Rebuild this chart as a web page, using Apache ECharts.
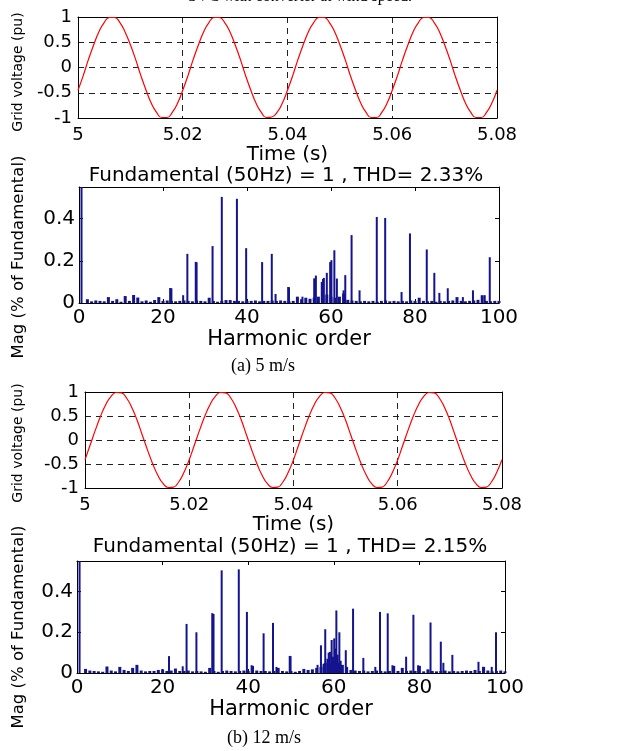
<!DOCTYPE html>
<html>
<head>
<meta charset="utf-8">
<script src="https://cdn.jsdelivr.net/npm/echarts@6/dist/echarts.min.js"></script>
<style>
  html, body { margin: 0; padding: 0; background: #fff; }
  #main { width: 638px; height: 751px; }
</style>
</head>
<body>
<div id="main"></div>
<script>
// grid voltage, sampled every 1 ms from t = 5 s
var tStart = 5, tStep = 0.001;
var voltA = [-0.45, -0.16, 0.16, 0.45, 0.71, 0.89, 0.99, 0.99, 0.89, 0.70, 0.45, 0.16, -0.16, -0.45, -0.71, -0.89, -0.99, -0.99, -0.89, -0.71,
             -0.45, -0.16, 0.16, 0.45, 0.71, 0.89, 0.99, 0.99, 0.89, 0.71, 0.45, 0.16, -0.16, -0.45, -0.71, -0.89, -0.99, -0.98, -0.89, -0.71,
             -0.45, -0.16, 0.16, 0.45, 0.71, 0.89, 0.99, 0.99, 0.89, 0.71, 0.45, 0.16, -0.16, -0.45, -0.71, -0.89, -0.99, -0.99, -0.89, -0.71,
             -0.45, -0.16, 0.16, 0.45, 0.71, 0.89, 0.99, 0.99, 0.89, 0.71, 0.45, 0.16, -0.16, -0.45, -0.71, -0.89, -0.99, -0.99, -0.89, -0.71,
             -0.45];
var voltB = [-0.41, -0.10, 0.21, 0.50, 0.74, 0.91, 0.99, 0.98, 0.87, 0.67, 0.41, 0.10, -0.21, -0.50, -0.74, -0.91, -0.99, -0.98, -0.87, -0.67,
             -0.41, -0.10, 0.21, 0.50, 0.74, 0.91, 0.99, 0.98, 0.87, 0.67, 0.41, 0.10, -0.21, -0.50, -0.74, -0.91, -0.99, -0.98, -0.87, -0.67,
             -0.41, -0.10, 0.21, 0.50, 0.74, 0.91, 0.99, 0.98, 0.87, 0.67, 0.41, 0.10, -0.21, -0.50, -0.74, -0.91, -0.99, -0.98, -0.87, -0.67,
             -0.41, -0.10, 0.21, 0.50, 0.74, 0.91, 0.99, 0.98, 0.87, 0.67, 0.41, 0.10, -0.21, -0.50, -0.74, -0.91, -0.99, -0.98, -0.87, -0.67,
             -0.41];

// spectrum lines [harmonic order, magnitude]
var peaksA = [[0.6, 1], [21.7, 0.071], [22, 0.07], [24.8, 0.037], [25.8, 0.233], [27.8, 0.195], [28, 0.193], [31.8, 0.27],
              [34, 0.503], [37.6, 0.494], [39.8, 0.26], [43.6, 0.194], [45.9, 0.233], [46.8, 0.043], [49.8, 0.076], [50, 0.075],
              [53.2, 0.03], [56, 0.117], [56.4, 0.13], [57.8, 0.10], [58.1, 0.114], [58.3, 0.119], [59, 0.143], [59.8, 0.194],
              [60.1, 0.203], [60.8, 0.25], [61.4, 0.116], [63, 0.06], [63.4, 0.132], [64.9, 0.322], [66.8, 0.06], [70.9, 0.408],
              [72.9, 0.403], [76.8, 0.052], [78.8, 0.33], [82.8, 0.254], [84.6, 0.143], [85.8, 0.048], [87.8, 0.07], [91.4, 0.028],
              [93.8, 0.06], [96.6, 0.037], [97.8, 0.217]];
var peaksB = [[0.6, 1], [21.5, 0.083], [24.7, 0.033], [25.6, 0.241], [27.9, 0.2], [31.6, 0.294], [31.9, 0.29], [33.8, 0.504],
              [37.8, 0.509], [39.7, 0.30], [40.8, 0.038], [43.6, 0.195], [45.8, 0.246], [46.6, 0.03], [49.7, 0.084], [49.9, 0.083],
              [56.2, 0.04], [57, 0.136], [57.6, 0.045], [58, 0.215], [58.5, 0.07], [58.8, 0.1], [59.1, 0.104], [59.5, 0.162],
              [59.8, 0.08], [60.1, 0.17], [60.3, 0.12], [60.6, 0.307], [60.9, 0.09], [61.3, 0.2], [61.6, 0.06], [62.8, 0.112],
              [64.5, 0.316], [66.9, 0.074], [69.7, 0.03], [70.8, 0.30], [72.6, 0.293], [73.7, 0.038], [76.9, 0.08], [78.6, 0.286],
              [79.7, 0.038], [82.6, 0.248], [85, 0.154], [85.6, 0.05], [87.7, 0.089], [93.8, 0.055], [94.9, 0.03], [96.9, 0.03],
              [97.9, 0.2]];

// noise floor, one value per order from 2 to 100
var floorStart = 2;
var floorA = [0.018, 0.008, 0.012, 0.010, 0.008, 0.028, 0.010, 0.018, 0.006, 0.033, 0.010, 0.038, 0.026, 0.008, 0.012, 0.006,
              0.014, 0.028, 0.010, 0.012, 0.010, 0.008, 0.010, 0.012, 0.010, 0.008, 0.012, 0.010, 0.008, 0.025, 0.010, 0.006,
              0.010, 0.014, 0.014, 0.010, 0.010, 0.008, 0.010, 0.010, 0.012, 0.008, 0.010, 0.010, 0.012, 0.010, 0.012, 0.010,
              0.008, 0.010, 0.030, 0.018, 0.025, 0.020, 0.025, 0.030, 0.030, 0.040, 0.030, 0.025, 0.030, 0.045, 0.015, 0.012,
              0.010, 0.008, 0.010, 0.008, 0.010, 0.006, 0.010, 0.012, 0.008, 0.010, 0.008, 0.010, 0.008, 0.012, 0.010, 0.025,
              0.010, 0.008, 0.010, 0.006, 0.010, 0.008, 0.010, 0.012, 0.028, 0.010, 0.008, 0.010, 0.012, 0.015, 0.037, 0.010,
              0.008, 0.010, 0.010];
var floorB = [0.020, 0.012, 0.010, 0.008, 0.006, 0.032, 0.012, 0.008, 0.030, 0.015, 0.010, 0.025, 0.040, 0.012, 0.008, 0.010,
              0.010, 0.015, 0.018, 0.010, 0.012, 0.022, 0.010, 0.010, 0.012, 0.008, 0.010, 0.008, 0.006, 0.025, 0.010, 0.006,
              0.010, 0.012, 0.010, 0.008, 0.010, 0.012, 0.010, 0.035, 0.012, 0.010, 0.010, 0.008, 0.010, 0.025, 0.010, 0.008,
              0.010, 0.006, 0.010, 0.020, 0.015, 0.018, 0.025, 0.030, 0.050, 0.040, 0.060, 0.050, 0.040, 0.030, 0.015, 0.012,
              0.010, 0.012, 0.008, 0.010, 0.012, 0.010, 0.008, 0.010, 0.035, 0.010, 0.025, 0.010, 0.012, 0.010, 0.035, 0.008,
              0.018, 0.010, 0.008, 0.010, 0.012, 0.008, 0.010, 0.008, 0.010, 0.012, 0.010, 0.015, 0.010, 0.030, 0.012, 0.008,
              0.010, 0.012, 0.008];

var titleA = 'Fundamental (50Hz) = 1 , THD= 2.33%';
var titleB = 'Fundamental (50Hz) = 1 , THD= 2.15%';

var font = '"DejaVu Sans", sans-serif';
var navy = '#14148f';

function timeSeries(vals) {
  return vals.map(function (v, i) { return [tStart + i * tStep, v]; });
}
function floorSeries(vals) {
  return vals.map(function (v, i) { return [floorStart + i, v]; });
}

var dashed = { show: true, lineStyle: { color: '#222', type: [6, 5], width: 1 } };
var blackLine = { show: true, onZero: false, lineStyle: { color: '#000', width: 1 } };

function timeAxis(grid) {
  return [{
    type: 'value', gridIndex: grid, position: 'bottom', min: 5, max: 5.08, interval: 0.02,
    axisLine: blackLine, axisTick: { show: false }, splitLine: dashed,
    axisLabel: { color: '#000', fontSize: 18, fontFamily: font, margin: 8,
                 formatter: function (v) { return String(+v.toFixed(2)); } },
    name: 'Time (s)', nameLocation: 'middle', nameGap: 23,
    nameTextStyle: { color: '#000', fontSize: 20, fontFamily: font }
  }, {
    type: 'value', gridIndex: grid, position: 'top', min: 5, max: 5.08, interval: 0.02,
    axisLine: blackLine, axisTick: { show: false }, axisLabel: { show: false }, splitLine: { show: false }
  }];
}
function voltAxis(grid) {
  return [{
    type: 'value', gridIndex: grid, position: 'left', min: -1, max: 1, interval: 0.5,
    axisLine: blackLine, axisTick: { show: false }, splitLine: dashed,
    axisLabel: { color: '#000', fontSize: 18, fontFamily: font, margin: 6 }
  }, {
    type: 'value', gridIndex: grid, position: 'right', min: -1, max: 1, interval: 0.5,
    axisLine: blackLine, axisTick: { show: false }, axisLabel: { show: false }, splitLine: { show: false }
  }];
}
function orderAxis(grid, gap) {
  return [{
    type: 'value', gridIndex: grid, position: 'bottom', min: 0, max: 100, interval: 20,
    axisLine: blackLine, axisTick: { show: true, inside: true, length: 4, lineStyle: { color: '#000' } },
    splitLine: { show: false },
    axisLabel: { color: '#000', fontSize: 20, fontFamily: font, margin: 5 },
    name: 'Harmonic order', nameLocation: 'middle', nameGap: gap,
    nameTextStyle: { color: '#000', fontSize: 21, fontFamily: font }
  }, {
    type: 'value', gridIndex: grid, position: 'top', min: 0, max: 100, interval: 20,
    axisLine: blackLine, axisTick: { show: true, inside: true, length: 4, lineStyle: { color: '#000' } },
    axisLabel: { show: false }, splitLine: { show: false }
  }];
}
function magAxis(grid) {
  return [{
    type: 'value', gridIndex: grid, position: 'left', min: 0, max: 0.55, interval: 0.2,
    axisLine: blackLine, axisTick: { show: true, inside: true, length: 4, lineStyle: { color: '#000' } },
    splitLine: { show: false },
    axisLabel: { color: '#000', fontSize: 20, fontFamily: font, margin: 4, showMaxLabel: false }
  }, {
    type: 'value', gridIndex: grid, position: 'right', min: 0, max: 0.55, interval: 0.2,
    axisLine: blackLine, axisTick: { show: true, inside: true, length: 4, lineStyle: { color: '#000' } },
    axisLabel: { show: false }, splitLine: { show: false }
  }];
}

function textEl(x, y, text, size, family, rot) {
  return {
    type: 'text', x: x, y: y, rotation: rot || 0,
    style: { text: text, font: size + 'px ' + family, fill: '#000', textAlign: 'center', textVerticalAlign: 'middle' }
  };
}

var myChart = echarts.init(document.getElementById('main'), null, { renderer: 'canvas' });

myChart.setOption({
  backgroundColor: '#fff',
  animation: false,
  grid: [
    { left: 78, top: 17, width: 419, height: 101 },
    { left: 85, top: 392, width: 417, height: 96 },
    { left: 79, top: 187, width: 420, height: 116 },
    { left: 77, top: 561, width: 428, height: 112 }
  ],
  xAxis: [].concat(timeAxis(0), timeAxis(1), orderAxis(2, 16), orderAxis(3, 19)),
  yAxis: [].concat(voltAxis(0), voltAxis(1), magAxis(2), magAxis(3)),
  series: [
    { type: 'line', xAxisIndex: 0, yAxisIndex: 0, data: timeSeries(voltA), smooth: true, showSymbol: false,
      lineStyle: { color: '#ff0000', width: 1.2 } },
    { type: 'line', xAxisIndex: 2, yAxisIndex: 2, data: timeSeries(voltB), smooth: true, showSymbol: false,
      lineStyle: { color: '#ff0000', width: 1.2 } },
    // 5 m/s spectrum
    { type: 'bar', xAxisIndex: 5, yAxisIndex: 4, data: floorSeries(floorA), barWidth: 3, itemStyle: { color: navy } },
    { type: 'bar', xAxisIndex: 4, yAxisIndex: 4, data: peaksA, barWidth: 2, itemStyle: { color: navy } },
    // 12 m/s spectrum
    { type: 'bar', xAxisIndex: 7, yAxisIndex: 6, data: floorSeries(floorB), barWidth: 3, itemStyle: { color: navy } },
    { type: 'bar', xAxisIndex: 6, yAxisIndex: 6, data: peaksB, barWidth: 2, itemStyle: { color: navy } }
  ],
  graphic: [
    textEl(300, -3, 'SVC with converter at wind speed.', 16, '"Liberation Serif", serif'),
    textEl(286, 176, titleA, 20, font),
    textEl(290, 547, titleB, 20, font),
    textEl(18, 72, 'Grid voltage (pu)', 14, font, Math.PI / 2),
    textEl(19, 257, 'Mag (% of Fundamental)', 16.5, font, Math.PI / 2),
    textEl(18, 443, 'Grid voltage (pu)', 14, font, Math.PI / 2),
    textEl(19, 627, 'Mag (% of Fundamental)', 16.5, font, Math.PI / 2),
    textEl(263, 366, '(a) 5 m/s', 18, '"Liberation Serif", serif'),
    textEl(264, 738, '(b) 12 m/s', 18, '"Liberation Serif", serif')
  ]
});
</script>
</body>
</html>
